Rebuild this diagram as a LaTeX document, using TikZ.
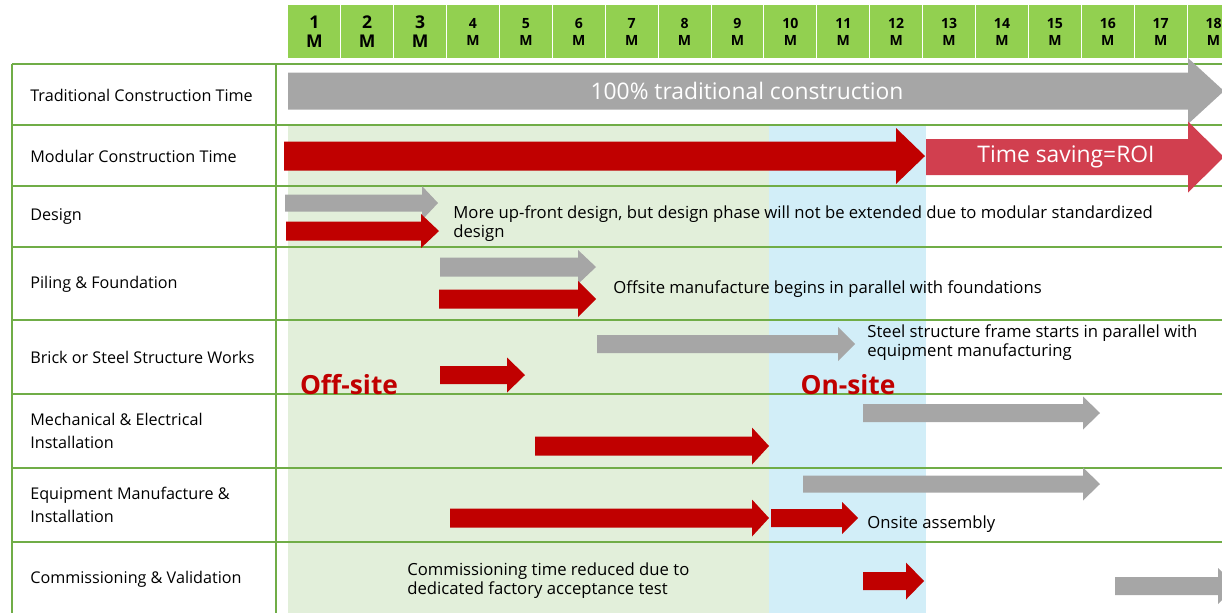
\documentclass[tikz,border=0pt]{standalone}
\usepackage{fontspec}
\setmainfont{Open Sans}
\usetikzlibrary{positioning}
\definecolor{hdrgreen}{HTML}{92D050}
\definecolor{gridgreen}{HTML}{70AD47}
\definecolor{offbg}{HTML}{E2EFDA}
\definecolor{onbg}{HTML}{D2EEF8}
\definecolor{darkred}{HTML}{C00000}
\definecolor{roired}{HTML}{D13F4F}
\definecolor{bargray}{HTML}{A6A6A6}
\tikzset{
  month/.style={fill=hdrgreen, anchor=north west, align=center, inner sep=0pt,
    minimum width=1.038cm, minimum height=1.06cm,
    font=\fontsize{8}{9.5}\selectfont\bfseries},
  monthbig/.style={month, font=\fontsize{10}{11}\selectfont\bfseries},
  rowlabel/.style={anchor=west, align=left, inner sep=0pt, font=\fontsize{9.2}{13}\selectfont},
  note/.style={anchor=west, align=left, inner sep=0pt, font=\fontsize{9.5}{10.8}\selectfont},
  bartext/.style={text=white, font=\fontsize{13}{15}\selectfont},
  sitetext/.style={text=darkred, font=\fontsize{15}{17}\selectfont\bfseries},
  grid line/.style={gridgreen, line width=0.8pt},
}
% block arrow: [colour] start, head base, tip, y centre, half body, half head
\newcommand{\blockarrow}[7][bargray]{%
  \fill[#1] (#2,{#5-#6}) -- (#3,{#5-#6}) -- (#3,{#5-#7}) -- (#4,#5)
    -- (#3,{#5+#7}) -- (#3,{#5+#6}) -- (#2,{#5+#6}) -- cycle;}

\begin{document}
\begin{tikzpicture}[x=0.02cm,y=-0.02cm]
  \useasboundingbox (0,0) rectangle (1222,613);
  \clip (0,0) rectangle (1222,613);

  % off-site / on-site shading
  \fill[offbg] (288,125) rectangle (769,613);
  \fill[onbg] (769,125) rectangle (926,613);

  % month header
  \foreach \i in {1,2,3}
    \node[monthbig] (m\i) at ({288+(\i-1)*52.9},5) {\i\\M};
  \foreach \i in {4,...,18}
    \node[month] (m\i) at ({288+(\i-1)*52.9},5) {\i\\M};

  % table grid
  \foreach \y in {64,125,186,247,320,394,468,542}
    \draw[grid line] (12,\y) -- (1222,\y);
  \draw[grid line] (12,64) -- (12,613);
  \draw[grid line] (276,64) -- (276,613);

  % row labels
  \node[rowlabel] (trad) at (30,95) {Traditional Construction Time};
  \node[rowlabel] (modular) at (30,156) {Modular Construction Time};
  \node[rowlabel] (design) at (30,217) {Design};
  \node[rowlabel] (piling) at (30,284) {Piling \& Foundation};
  \node[rowlabel] (brick) at (30,357) {Brick or Steel Structure Works};
  \node[rowlabel] (mech) at (30,431) {Mechanical \& Electrical\\Installation};
  \node[rowlabel] (equip) at (30,505) {Equipment Manufacture \&\\Installation};
  \node[rowlabel] (comm) at (30,579) {Commissioning \& Validation};

  % bars
  \blockarrow{288}{1188}{1224}{91}{18.5}{33}
  \blockarrow[darkred]{284}{896}{925}{156}{14.5}{28}
  \blockarrow[roired]{926}{1188}{1224}{157}{18}{35.5}
  \blockarrow{285}{422}{438}{203}{8.5}{17}
  \blockarrow[darkred]{286}{421}{439}{231}{9.5}{17}
  \blockarrow{440}{578}{596}{267}{9.5}{17}
  \blockarrow[darkred]{439}{578}{596}{299}{9.5}{18}
  \blockarrow{597}{838}{855}{344}{9}{17}
  \blockarrow[darkred]{440}{507}{525}{375}{9}{17.5}
  \blockarrow{863}{1083}{1100}{413}{9}{16.5}
  \blockarrow[darkred]{535}{752}{769}{446}{9.5}{18.5}
  \blockarrow{803}{1083}{1100}{484}{8.5}{16.5}
  \blockarrow[darkred]{450}{752}{769}{518}{9.5}{18.5}
  \blockarrow[darkred]{771}{842}{858}{518}{9}{16}
  \blockarrow[darkred]{863}{906}{924}{581}{9}{18.5}
  \blockarrow{1115}{1218}{1236}{586}{9}{18}

  \node[bartext] (tradbar) at (747,91) {100\% traditional construction};
  \node[bartext] (roibar) at (1066,157) {Time saving=ROI};

  \node[sitetext] (offsite) at (349,385) {Off-site};
  \node[sitetext] (onsite) at (848,385) {On-site};

  % notes
  \node[note] (designnote) at (453,224) {More up-front design, but design phase will not be extended due to modular standardized\\design};
  \node[note] (pilingnote) at (613,289) {Offsite manufacture begins in parallel with foundations};
  \node[note] (steelnote) at (867,343) {Steel structure frame starts in parallel with\\equipment manufacturing};
  \node[note] (onsitenote) at (867,524) {Onsite assembly};
  \node[note] (commnote) at (407,581) {Commissioning time reduced due to\\dedicated factory acceptance test};
\end{tikzpicture}
\end{document}
